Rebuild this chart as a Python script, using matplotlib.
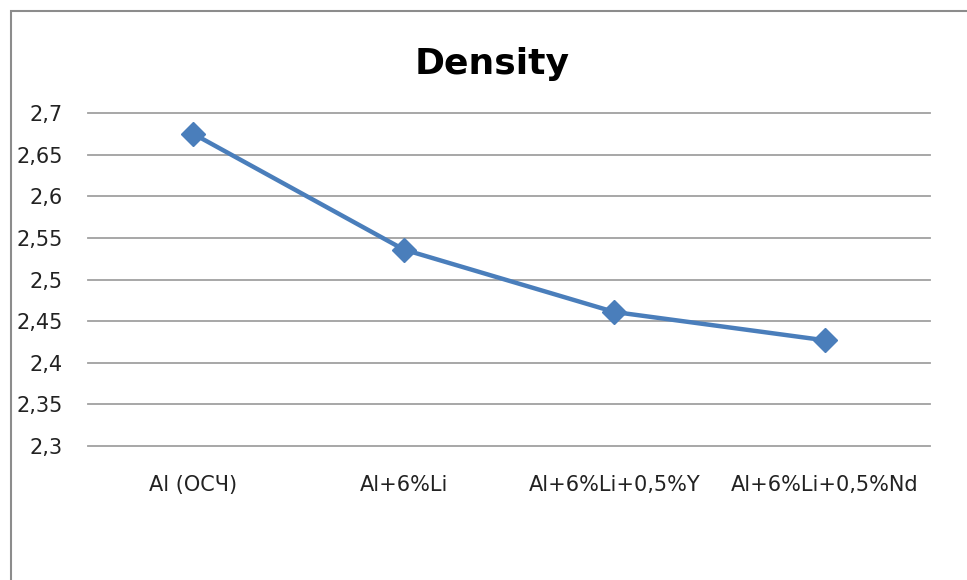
import matplotlib
matplotlib.use('Agg')
import matplotlib.pyplot as plt
from matplotlib.patches import Rectangle

# values
alloys = ['Al (ОСЧ)', 'Al+6%Li', 'Al+6%Li+0,5%Y', 'Al+6%Li+0,5%Nd']
density = [2.675, 2.536, 2.461, 2.427]
yticks = [2.3, 2.35, 2.4, 2.45, 2.5, 2.55, 2.6, 2.65, 2.7]

plt.rcParams['font.family'] = ['DejaVu Sans']

W, H = 967, 580
fig = plt.figure(figsize=(W / 100, H / 100), dpi=100)
ax = fig.add_axes([88 / W, 1 - 446 / H, 842 / W, 333 / H])

# outer chart border (only left/top visible in the crop)
fig.patches.append(Rectangle((11 / W, -0.05), 1.2, 1 - 11 / H + 0.05,
                             transform=fig.transFigure, fill=False,
                             edgecolor='#8c8c8c', linewidth=1.5))

x = list(range(len(alloys)))
for v in yticks:
    ax.axhline(v, color='#a0a0a0', linewidth=1.3, clip_on=False, zorder=0)
ax.plot(x, density, color='#4a7ebb', linewidth=3.2, marker='D',
        markersize=12, markerfacecolor='#4a7ebb', markeredgecolor='#4a7ebb')

ax.set_xlim(-0.5, len(alloys) - 0.5)
ax.set_ylim(2.3, 2.7)
ax.set_yticks(yticks)
ax.set_yticklabels([('%g' % v).replace('.', ',') for v in yticks])
ax.set_xticks(x)
ax.set_xticklabels(alloys)
for s in ax.spines.values():
    s.set_visible(False)
ax.tick_params(axis='both', length=0, labelsize=15, colors='#222222')
ax.tick_params(axis='y', pad=18)
ax.tick_params(axis='x', pad=21)

fig.text(492 / W, 1 - 64 / H, 'Density', ha='center', va='center',
         fontsize=26, fontweight='bold')

fig.savefig('out.png', dpi=100)
